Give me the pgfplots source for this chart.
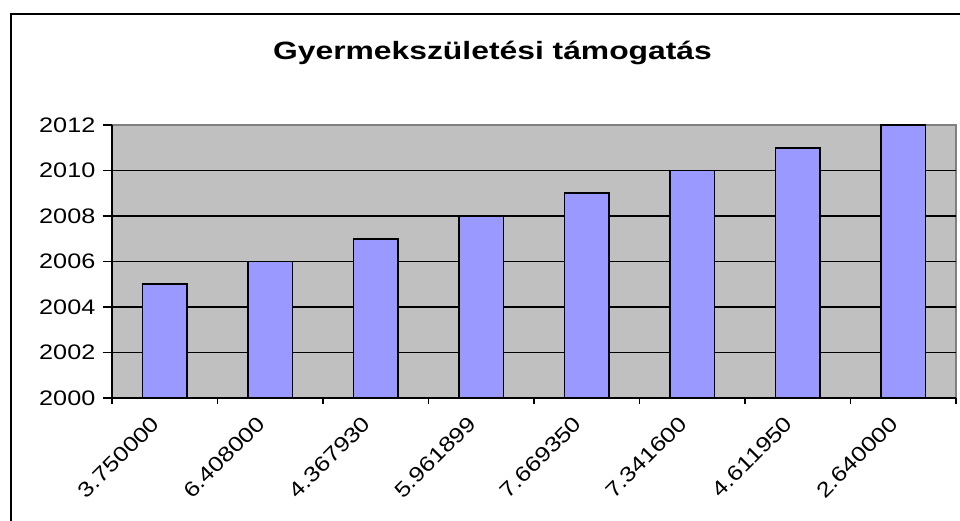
\documentclass[border=0pt]{standalone}
\usepackage{fontspec}
\setmainfont{Liberation Sans}[FakeStretch=1.2]
\newfontfamily\titlefont{Liberation Sans}[FakeStretch=1.27]
\usepackage{pgfplots}
\pgfplotsset{compat=1.18}
\definecolor{barfill}{HTML}{9999FF}
\definecolor{plotbg}{HTML}{C0C0C0}
\definecolor{framegray}{HTML}{808080}
\begin{document}
\begin{tikzpicture}[x=1pt,y=1pt]
\useasboundingbox (0,0) rectangle (720,390.75);
\draw[line width=1.5pt] (8.25,-10) rectangle (740,380.25);
\node[anchor=base, font=\titlefont\bfseries\fontsize{18.8}{22}\selectfont] at (369.4,345.75) {Gyermekszületési támogatás};
\begin{axis}[
  at={(84pt,92.25pt)}, anchor=south west,
  scale only axis, width=633pt, height=204.75pt,
  xmin=-0.5, xmax=7.5, ymin=2000, ymax=2012,
  axis background/.style={fill=plotbg, draw=framegray, line width=1pt},
  separate axis lines,
  x axis line style={black, line width=1.2pt, -},
  y axis line style={black, line width=1.2pt, -},
  axis x line*=bottom, axis y line*=left,
  xtick={0,...,7},
  xticklabels={3.750000,6.408000,4.367930,5.961899,7.669350,7.341600,4.611950,2.640000},
  major x tick style={draw=none},
  minor xtick={-0.5,0.5,...,7.5},
  minor x tick style={black, line width=1.2pt},
  minor tick length=4.5pt,
  ytick={2000,2002,...,2012},
  y tick style={black, line width=1.2pt},
  major tick length=7pt,
  tick align=outside,
  extra y ticks={2002,2004,...,2010},
  extra y tick labels={},
  extra y tick style={grid=major, major tick length=0pt, major grid style={black, line width=1.1pt}},
  /pgf/number format/assume math mode=true,
  /pgf/number format/set thousands separator={},
  tick label style={font=\fontsize{15.75}{18}\selectfont, black},
  xticklabel style={rotate=45, anchor=east, yshift=-2pt, xshift=-8pt},
  yticklabel style={xshift=-2pt},
  ybar, bar width=0.42,
]
\addplot[fill=barfill, draw=black, line width=1.2pt] coordinates {
(0,2005) (1,2006) (2,2007) (3,2008) (4,2009) (5,2010) (6,2011) (7,2012)};
\end{axis}
\end{tikzpicture}
\end{document}
